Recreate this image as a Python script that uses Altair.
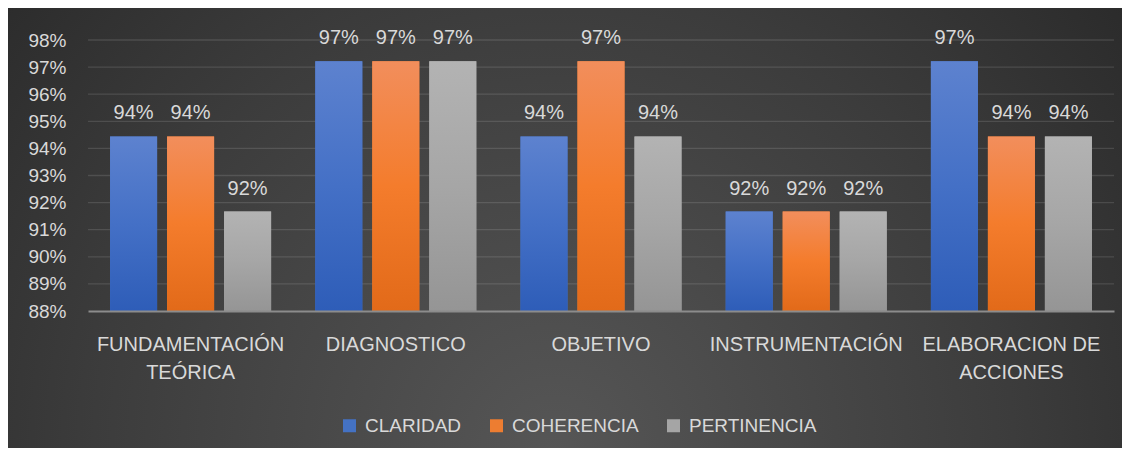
import altair as alt
import pandas as pd

categorias = ["FUNDAMENTACIÓN\nTEÓRICA", "DIAGNOSTICO", "OBJETIVO", "INSTRUMENTACIÓN", "ELABORACION DE\nACCIONES"]
series = ["CLARIDAD", "COHERENCIA", "PERTINENCIA"]
claridad = [0.9444, 0.9722, 0.9444, 0.9167, 0.9722]
coherencia = [0.9444, 0.9722, 0.9722, 0.9167, 0.9444]
pertinencia = [0.9167, 0.9722, 0.9444, 0.9167, 0.9444]
y_ticks = [0.88, 0.89, 0.90, 0.91, 0.92, 0.93, 0.94, 0.95, 0.96, 0.97, 0.98]
colores = ["#4472c4", "#ed7d31", "#a5a5a5"]

FONT = "Liberation Sans"
TXT = "#d9d9d9"
W, H = 1026, 271
PB = 137
PR = 8

rows = []
for s, vals in zip(series, [claridad, coherencia, pertinencia]):
    for c, v in zip(categorias, vals):
        rows.append({"categoria": c, "serie": s, "valor": v})
df = pd.DataFrame(rows)
grid_df = pd.DataFrame({"g": y_ticks[1:]})
bg_df = pd.DataFrame({"a": [0]})

gradientes = {
    "CLARIDAD": [("#5d82cf", 0), ("#4470c6", 0.5), ("#2e5db8", 1)],
    "COHERENCIA": [("#f28e5c", 0), ("#f47c2c", 0.5), ("#e26a19", 1)],
    "PERTINENCIA": [("#b3b3b3", 0), ("#a6a6a6", 0.5), ("#959595", 1)],
}

y_scale = alt.Scale(domain=[0.88, 0.98], zero=False, nice=False)
y_axis = alt.Axis(values=y_ticks, format=".0%", grid=False, domain=False, ticks=False,
                  labelPadding=22, labelFontSize=19, labelColor=TXT, labelFont=FONT,
                  title=None, zindex=1)
x_scale = alt.Scale(domain=categorias, paddingInner=0.1667, paddingOuter=0.0833)
x_axis = alt.Axis(title=None, labelAngle=0, labelExpr="split(datum.label, '\\n')",
                  labelFontSize=20, labelLineHeight=28, labelPadding=23, ticks=False,
                  domain=True, domainColor="#8c8c8c", domainWidth=2, labelColor=TXT,
                  labelFont=FONT, labelLimit=300, zindex=1)
xo_scale = alt.Scale(domain=series, paddingInner=0.175, paddingOuter=0.0875)

X = alt.X("categoria:N", scale=x_scale, axis=x_axis)
XO = alt.XOffset("serie:N", scale=xo_scale)
Y = alt.Y("valor:Q", scale=y_scale, axis=y_axis)

bg = alt.Chart(bg_df).mark_rect(
    fill={"gradient": "radial", "x1": 0.49, "y1": 0.7, "r1": 0,
          "x2": 0.49, "y2": 0.7, "r2": 0.75,
          "stops": [{"offset": 0, "color": "#565656"},
                    {"offset": 0.55, "color": "#3c3c3c"},
                    {"offset": 1, "color": "#242424"}]}
).encode(x=alt.value(-80), x2=alt.value(W + PR), y=alt.value(-32), y2=alt.value(H + PB))

grid = alt.Chart(grid_df).mark_rule(color="#ffffff", opacity=0.12, strokeWidth=1.3).encode(
    y=alt.Y("g:Q", scale=y_scale, axis=y_axis), x=alt.value(0), x2=alt.value(W))

base_bars = alt.Chart(df).mark_bar().encode(
    x=X, xOffset=XO, y=Y, y2=alt.datum(0.88),
    color=alt.Color("serie:N", scale=alt.Scale(domain=series, range=colores),
                    legend=alt.Legend(title=None, orient="none", legendX=252, legendY=376,
                                      direction="horizontal", symbolType="square",
                                      symbolSize=169, symbolStrokeWidth=0,
                                      labelFontSize=19, labelColor=TXT, labelFont=FONT,
                                      labelOffset=6, columnPadding=25, padding=0, zindex=1)))

grad_layers = []
for s in series:
    stops = [{"offset": o, "color": c} for c, o in gradientes[s]]
    grad_layers.append(
        alt.Chart(df).transform_filter(alt.datum.serie == s).mark_bar(
            fill={"gradient": "linear", "x1": 0, "y1": 0, "x2": 0, "y2": 1, "stops": stops}
        ).encode(x=X, xOffset=XO, y=Y, y2=alt.datum(0.88))
    )

labels = alt.Chart(df).mark_text(baseline="alphabetic", dy=-17, fontSize=20, font=FONT, color=TXT).encode(
    x=X, xOffset=XO, y=Y, text=alt.Text("valor:Q", format=".0%"))

chart = alt.layer(bg, grid, base_bars, *grad_layers, labels).properties(
    width=W, height=H,
    padding={"left": 80, "top": 32, "right": PR, "bottom": PB},
    autosize=alt.AutoSizeParams(type="none"),
    background="#2a2a2a",
).configure_view(strokeWidth=0)

chart.save("out.html", embed_options={"renderer": "svg", "actions": False})
